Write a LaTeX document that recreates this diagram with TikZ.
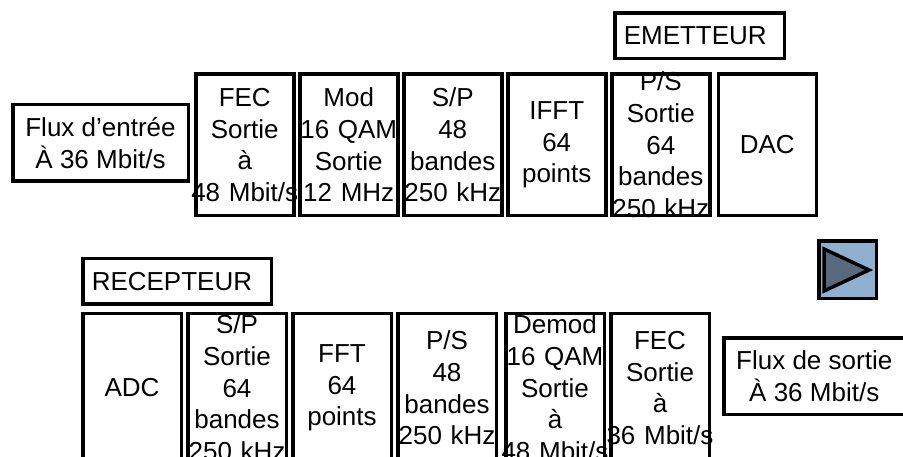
\documentclass[tikz,border=0pt]{standalone}
\usepackage{fontspec}
\setmainfont{Liberation Sans}
\usetikzlibrary{positioning}
\definecolor{playfill}{RGB}{143,176,206}
\definecolor{playtri}{RGB}{88,106,124}

\begin{document}
\begin{tikzpicture}[
  x=1pt, y=-1pt,
  every node/.style={font=\fontsize{26pt}{31.7pt}\selectfont},
  blk/.style={draw, line width=3.5pt, minimum width=98pt, minimum height=141.5pt, text width=124pt, inner xsep=-13pt, inner ysep=-16pt, align=center},
  blkR/.style={blk, minimum width=98.5pt, minimum height=148.5pt},
  flux/.style={draw, line width=3.5pt, minimum width=175.5pt, minimum height=76.5pt, inner sep=0pt, align=center},
  titre/.style={draw, line width=3.5pt, minimum height=45.5pt, inner xsep=9pt, inner ysep=0pt, align=left},
  node distance=2.5pt,
]
  \useasboundingbox (0,0) rectangle (903,457);

  % emetteur
  \node[flux, anchor=west] (entree) at (11,143) {Flux d’entrée\\À 36 Mbit/s};
  \node[blk, anchor=west] (fecT) at (194,145) {FEC\\Sortie\\à\\48 Mbit/s};
  \node[blk, right=of fecT] (modT) {Mod\\16 QAM\\Sortie\\12 MHz};
  \node[blk, right=of modT] (spT) {S/P\\48\\bandes\\250 kHz};
  \node[blk, right=of spT] (ifftT) {IFFT\\64\\points};
  \node[blk, right=of ifftT] (psT) {P/S\\Sortie\\64\\bandes\\250 kHz};
  \node[blk, right=5pt of psT] (dacT) {DAC};
  \node[titre, text width=151.5pt, above=12pt of psT.north west, anchor=south west, xshift=3pt] (emet) {EMETTEUR};

  % recepteur
  \node[blkR, anchor=north west] (adcR) at (81,312) {ADC};
  \node[blkR, right=3pt of adcR] (spR) {S/P\\Sortie\\64\\bandes\\250 kHz};
  \node[blkR, right=3pt of spR] (fftR) {FFT\\64\\points};
  \node[blkR, right=3pt of fftR] (psR) {P/S\\48\\bandes\\250 kHz};
  \node[blkR, right=6pt of psR] (demodR) {Demod\\16 QAM\\Sortie\\à\\48 Mbit/s};
  \node[blkR, right=3pt of demodR] (fecR) {FEC\\Sortie\\à\\36 Mbit/s};
  \node[titre, text width=170.5pt, above=6pt of adcR.north west, anchor=south west] (recep) {RECEPTEUR};
  \node[flux, minimum width=181pt, anchor=west] (sortie) at (722,376) {Flux de sortie\\À 36 Mbit/s};

  % bouton
  \node[draw, line width=3.5pt, fill=playfill, minimum size=57.5pt, inner sep=0pt] (play) at (847.5,270) {};
  \draw[line width=3.5pt, fill=playtri] ([shift={(-23.5,-21)}]play.center) -- ([shift={(21.5,0)}]play.center) -- ([shift={(-23.5,21)}]play.center) -- cycle;
\end{tikzpicture}
\end{document}
